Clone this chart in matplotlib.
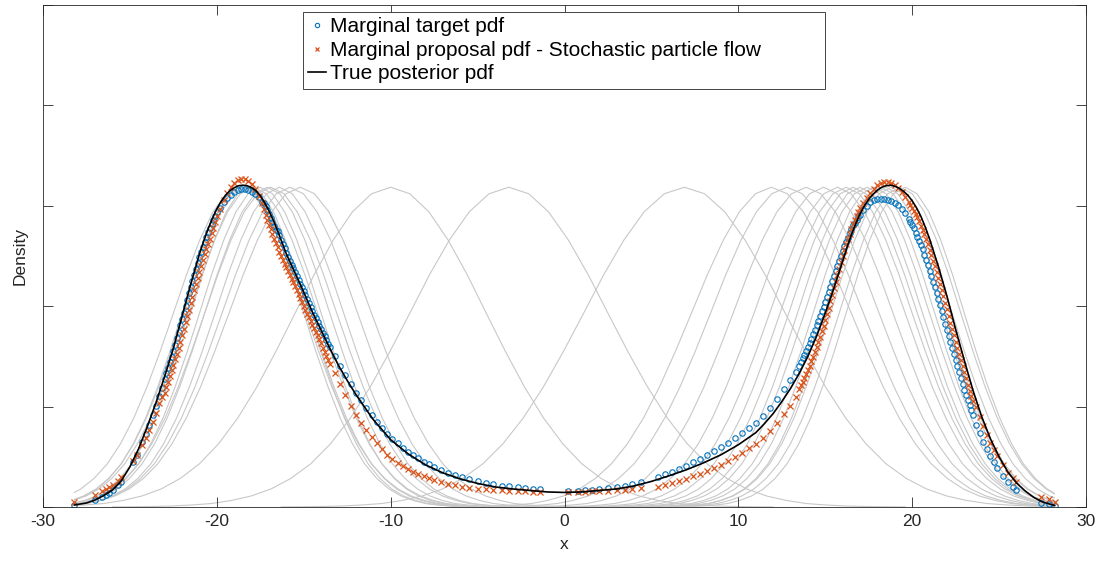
import numpy as np
import matplotlib.pyplot as plt
from matplotlib.patches import Rectangle

plt.rcParams['font.family'] = ['Liberation Sans', 'DejaVu Sans']
plt.rcParams['axes.unicode_minus'] = False

# particle positions and pdf values (pdf values in units of 1e-4)
left_x = [-28.2, -27.0, -26.6, -26.4, -26.2, -26.0, -25.7, -25.5, -24.8, -24.6, -24.3, -24.1, -23.9, -23.7, -23.5, -23.3, -23.15,
          -23.0, -22.9, -22.8, -22.7, -22.6, -22.5, -22.4, -22.3, -22.2, -22.1, -22.0, -21.9, -21.8, -21.7, -21.6, -21.5,
          -21.4, -21.3, -21.2, -21.1, -21.0, -20.9, -20.8, -20.7, -20.6, -20.5, -20.4, -20.3, -20.2, -20.1, -20.0,
          -19.8, -19.6, -19.4, -19.2, -19.0, -18.8, -18.6, -18.4, -18.2, -18.0, -17.8, -17.6, -17.4,
          -17.3, -17.2, -17.1, -17.0, -16.9, -16.8, -16.7, -16.6, -16.5, -16.4, -16.3, -16.2, -16.1, -16.0, -15.9, -15.8,
          -15.7, -15.6, -15.5, -15.4, -15.3, -15.2, -15.1, -15.0, -14.9, -14.8, -14.7, -14.6, -14.5, -14.4, -14.3, -14.2,
          -14.1, -14.0, -13.9, -13.8, -13.7, -13.6, -13.5]
left_target = [3, 13, 20, 24, 28, 33, 43, 50, 90, 104, 130, 146, 164, 183, 202, 222, 238,
               254, 266, 276, 288, 298, 310, 322, 336, 348, 362, 374, 386, 400, 412, 426, 438,
               450, 462, 474, 486, 498, 508, 518, 528, 538, 548, 556, 564, 572, 580, 588,
               596, 608, 616, 622, 628, 632, 634, 634, 632, 628, 624, 618, 608,
               606, 599, 592, 584, 576, 568, 560, 552, 550, 541, 532, 524, 515, 506, 498, 491,
               483, 476, 468, 460, 453, 445, 438, 430, 422, 414, 406, 398, 390, 383, 376, 368,
               361, 354, 347, 340, 332, 325, 318]
left_proposal = [10, 24, 31, 35, 39, 43, 52, 59, 92, 104, 124, 138, 154, 170, 188, 207, 220,
                 228, 240, 250, 260, 272, 282, 294, 304, 316, 328, 342, 354, 368, 380, 392, 406,
                 418, 432, 444, 456, 468, 480, 492, 504, 514, 524, 534, 546, 556, 568, 580,
                 594, 612, 626, 638, 646, 652, 654, 654, 650, 644, 634, 620, 606,
                 594, 582, 572, 562, 554, 544, 534, 526, 517, 508, 500, 492, 485, 478, 470, 462,
                 454, 448, 440, 432, 424, 416, 408, 400, 392, 384, 378, 370, 362, 356, 348, 342,
                 334, 326, 316, 308, 300, 292, 284]

mid_x = [-13.2, -12.9, -12.6, -12.3, -12.0, -11.7, -11.4, -11.1, -10.8, -10.5, -10.2, -9.9, -9.6, -9.3, -9.0, -8.7,
         -8.4, -8.1, -7.8, -7.5, -7.1, -6.7, -6.3, -5.9, -5.5, -5.0, -4.5, -4.1, -3.6, -3.2, -2.7, -2.3, -1.8, -1.4,
         0.2, 0.8, 1.2, 1.6, 2.0, 2.5, 3.0, 3.5, 3.9, 4.4, 5.4, 5.8, 6.2, 6.6, 7.0, 7.4, 7.8, 8.2, 8.6, 9.0, 9.4,
         9.8, 10.2, 10.6, 11.0, 11.4, 11.8, 12.2, 12.6, 13.0, 13.3]
mid_target = [300, 280, 262, 246, 228, 213, 198, 183, 170, 158, 146, 135, 127, 118, 110, 103,
              97, 90, 85, 80, 74, 68, 64, 59, 55, 51, 47, 45, 42, 41, 39, 38, 36, 35,
              31, 32, 33, 34, 35, 37, 39, 42, 45, 50, 60, 65, 70, 76, 82, 89, 96, 103, 111, 119, 128,
              137, 147, 157, 168, 182, 198, 216, 236, 252, 268]
mid_proposal = [266, 246, 224, 202, 184, 168, 154, 140, 128, 116, 104, 96, 88, 82, 76, 70,
                66, 62, 58, 54, 50, 46, 43, 40, 38, 36, 35, 34, 33, 32, 31, 31, 30, 30,
                30, 30, 30, 31, 32, 32, 33, 34, 36, 37, 40, 43, 47, 51, 56, 61, 66, 72, 78, 84, 91,
                99, 108, 117, 126, 138, 152, 168, 186, 202, 220]

right_x = [13.5, 13.6, 13.7, 13.8, 13.9, 14.0, 14.1, 14.2, 14.3, 14.4, 14.5, 14.6, 14.7, 14.8, 14.9, 15.0, 15.1, 15.2,
           15.3, 15.4, 15.5, 15.6, 15.7, 15.8, 15.9, 16.0, 16.1, 16.2, 16.3, 16.4, 16.5, 16.6, 16.7, 16.8, 16.9, 17.0,
           17.2, 17.4, 17.6, 17.8, 18.0, 18.2, 18.4, 18.6, 18.8, 19.0, 19.2, 19.4, 19.6, 19.8,
           19.9, 20.0, 20.1, 20.2, 20.3, 20.4, 20.5, 20.6, 20.7, 20.8, 20.9, 21.0, 21.1, 21.2, 21.3, 21.4, 21.5, 21.6,
           21.7, 21.8, 21.9, 22.0, 22.1, 22.2, 22.3, 22.4, 22.5, 22.6, 22.7, 22.8, 22.9, 23.0, 23.1, 23.2, 23.3, 23.4,
           23.5, 23.7, 23.9, 24.1, 24.3, 24.5, 24.7, 24.9, 25.2, 25.5, 25.8, 26.0, 27.4, 27.85, 28.24]
right_target = [281, 288, 296, 303, 311, 319, 326, 335, 344, 353, 362, 371, 380, 390, 399, 409, 419, 429,
                439, 450, 460, 470, 480, 490, 500, 510, 520, 528, 536, 545, 553, 561, 566, 571, 577, 582,
                591, 599, 607, 611, 614, 614, 614, 612, 609, 606, 601, 593, 586, 573,
                567, 561, 555, 546, 538, 530, 521, 513, 502, 492, 482, 471, 461, 449, 438, 426, 415, 403,
                391, 378, 365, 353, 340, 328, 316, 304, 292, 280, 269, 257, 246, 234, 223, 213, 203, 193,
                183, 164, 147, 130, 116, 102, 90, 78, 62, 50, 39, 33, 8, 5, 2]
right_proposal = [236, 243, 250, 257, 265, 273, 281, 290, 299, 308, 318, 328, 339, 350, 361, 373, 385, 397,
                  410, 423, 436, 449, 462, 475, 488, 500, 512, 523, 534, 544, 554, 563, 572, 580, 588, 595,
                  606, 616, 626, 634, 641, 646, 648, 648, 645, 642, 636, 628, 618, 608,
                  602, 596, 590, 584, 578, 569, 560, 552, 543, 534, 523, 512, 502, 491, 480, 468, 456, 444,
                  432, 420, 407, 394, 380, 367, 354, 342, 329, 317, 304, 292, 280, 268, 256, 244, 232, 222,
                  211, 200, 180, 161, 144, 128, 114, 101, 84, 68, 57, 50, 19, 15, 9]

# true posterior pdf (units of 1e-4)
post_x = [-28.2, -27.5, -27, -26.5, -26, -25.5, -25, -24.5, -24, -23.5, -23, -22.5, -22, -21.5,
          -21, -20.75, -20.5, -20.25, -20, -19.75, -19.5, -19.25, -19, -18.75, -18.5, -18.25, -18,
          -17.75, -17.5, -17.25, -17, -16.75, -16.5, -16.25, -16, -15.5, -15, -14.5, -14, -13.5, -13,
          -12.5, -12, -11, -10, -9, -8, -7, -6, -5, -4, -3, -2, -1, 0, 1, 2, 3, 4, 5, 6, 7, 8, 9, 10,
          11, 11.5, 12, 12.5, 13, 13.5, 14, 14.5, 15, 15.5, 16, 16.25, 16.5, 16.75, 17, 17.25, 17.5,
          17.75, 18, 18.25, 18.5, 18.75, 19, 19.25, 19.5, 19.75, 20, 20.25, 20.5, 20.75, 21, 21.5, 22,
          22.5, 23, 23.5, 24, 24.5, 25, 25.5, 26, 26.5, 27, 27.5, 28.2]
post_pdf = [4, 8, 14, 23, 34, 52, 80, 116, 160, 208, 260, 316, 380, 444,
            504, 530, 554, 575, 594, 609, 621, 630, 636, 640, 641, 640, 636,
            630, 620, 606, 590, 571, 550, 527, 504, 466, 428, 388, 352, 316, 282,
            252, 224, 174, 134, 106, 84, 68, 56, 47, 40, 36, 33, 30, 29, 30, 33, 36, 42, 51, 62, 74, 88, 104, 124,
            148, 166, 186, 210, 236, 266, 300, 340, 386, 436, 490, 517, 542, 564, 584, 600, 613,
            623, 631, 637, 640, 641, 639, 635, 629, 621, 610, 596, 579, 558, 534, 480, 420,
            354, 292, 232, 180, 136, 100, 70, 48, 32, 19, 10, 3]

# per-particle component curves: centre, width, and shared bump profile
comp_mu = [-18.7, -18.5, -18.3, -18.1, -17.9, -17.5, -17.1, -16.9, -16.4, -15.8, -15.2, -10.0, -3.2,
           6.9, 11.9, 12.8, 13.9, 14.9, 15.7, 16.2, 16.6, 17.0, 17.4, 17.8, 18.2, 18.5, 18.8, 19.3, 19.6]
comp_sigma = [3.8, 3.5, 3.6, 3.4, 3.7, 3.5, 3.6, 3.8, 3.7, 3.9, 4.1, 5.5, 5.7,
              5.8, 4.6, 4.4, 4.2, 4.0, 3.9, 3.8, 3.7, 3.6, 3.6, 3.5, 3.5, 3.4, 3.5, 3.5, 3.4]
shape_z = [-4.0, -3.8, -3.6, -3.4, -3.2, -3.0, -2.8, -2.6, -2.4, -2.2, -2.0, -1.8, -1.6, -1.4, -1.2, -1.0, -0.8,
           -0.6, -0.4, -0.2, 0.0, 0.2, 0.4, 0.6, 0.8, 1.0, 1.2, 1.4, 1.6, 1.8, 2.0, 2.2, 2.4, 2.6, 2.8, 3.0, 3.2,
           3.4, 3.6, 3.8, 4.0]
shape_pdf = [0.2, 0.5, 1, 2, 4, 7, 13, 22, 36, 57, 86, 126, 177, 239, 310, 386, 463, 532, 588, 624, 637,
             624, 588, 532, 463, 386, 310, 239, 177, 126, 86, 57, 36, 22, 13, 7, 4, 2, 1, 0.5, 0.2]
support = [-28.2, 28.24]

particle_x = np.array(left_x + mid_x + right_x)
target = np.array(left_target + mid_target + right_target) * 1e-4
proposal = np.array(left_proposal + mid_proposal + right_proposal) * 1e-4

fig = plt.figure(figsize=(11.07, 5.61), dpi=100)
ax = fig.add_axes([43 / 1107, 54 / 561, 1043 / 1107, 502 / 561])

clip = Rectangle((support[0], -1), support[1] - support[0], 2, transform=ax.transData)
z = np.array(shape_z)
bump = np.array(shape_pdf) * 1e-4
for mu, sd in zip(comp_mu, comp_sigma):
    ln, = ax.plot(mu + sd * z, bump, color='#c8c8c8', lw=0.8, zorder=1)
    ln.set_clip_path(clip)

ax.plot(particle_x, target, 'o', mfc='none', mec='#0072BD', ms=3.9, mew=0.8, zorder=2,
        label='Marginal target pdf')
ax.plot(particle_x, proposal, 'x', color='#D95319', ms=3.8, mew=0.9, zorder=3,
        label='Marginal proposal pdf - Stochastic particle flow')
ax.plot(post_x, np.array(post_pdf) * 1e-4, color='k', lw=1.2, zorder=4, label='True posterior pdf')

ax.set_xlim(-30, 30)
ax.set_ylim(0, 0.1)
ax.set_xticks(range(-30, 31, 10))
ax.set_yticks([0, 0.02, 0.04, 0.06, 0.08, 0.1])
ax.set_yticklabels([])
ax.tick_params(direction='in', length=7.5, width=0.6, top=True, right=True,
               labelsize=12.5, colors='#262626', pad=5)
for sp in ax.spines.values():
    sp.set_color('#262626')
    sp.set_linewidth(0.6)

ax.set_xlabel('x', fontsize=12.5, color='#262626')
ax.xaxis.set_label_coords(0.5, -0.059)
ax.set_ylabel('Density', fontsize=12.5, color='#262626')
ax.yaxis.set_label_coords(-0.0147, 0.5)

leg = ax.legend(loc='upper left', bbox_to_anchor=(260 / 1043, 0.5, 522 / 1043, 0.486), mode='expand',
                borderaxespad=0, fontsize=15, handlelength=0.85, handletextpad=0.2, markerscale=0.8,
                labelspacing=0.22, borderpad=0.25, fancybox=False, framealpha=1)
leg.get_frame().set_edgecolor('#262626')
leg.get_frame().set_linewidth(0.6)

fig.savefig('out.png', dpi=100)
